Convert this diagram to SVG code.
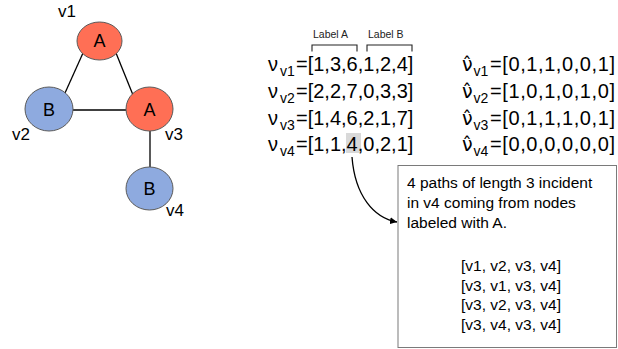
<svg xmlns="http://www.w3.org/2000/svg" width="618" height="349" viewBox="0 0 618 349">
<style>
text{font-family:"Liberation Sans",Arial,sans-serif;fill:#000}
.nA{fill:#ff6f55;stroke:#5a5a5a;stroke-width:1}
.nB{fill:#8eaadf;stroke:#5a5a5a;stroke-width:1}
.nl{font-size:18px;text-anchor:middle}
.vl{font-size:17px}
.edge{stroke:#000;stroke-width:1.3;fill:none}
.big{font-size:20px}
.nu{font-size:19px;font-family:"DejaVu Sans",sans-serif}
.sub{font-size:14px}
.lab{font-size:10.5px;fill:#222}
.br{stroke:#222;stroke-width:1.1;fill:none}
.box{font-size:15.5px}
</style>
<defs>
<marker id="ah" viewBox="0 0 10 10" refX="10" refY="5" markerWidth="7" markerHeight="7" orient="auto" markerUnits="userSpaceOnUse">
<path d="M0,0 L10,5 L0,10 z" fill="#000"/>
</marker>
</defs>
<g id="connectors">
<line class="edge" x1="83" y1="53" x2="65" y2="93"/>
<line class="edge" x1="116" y1="53" x2="133" y2="95"/>
<line class="edge" x1="73" y1="110" x2="126" y2="110"/>
<line class="edge" x1="150" y1="131" x2="150" y2="167"/>
<path class="edge" d="M352,157 C355,196 374,218 397,222" stroke-width="1.1" marker-end="url(#ah)"/>
</g>
<g id="v1">
<ellipse class="nA" cx="99.5" cy="41" rx="22.5" ry="19"/>
<text class="nl" x="99.5" y="46.5">A</text>
<text class="vl" x="58" y="17">v1</text>
</g>
<g id="v2">
<ellipse class="nB" cx="49" cy="109" rx="24" ry="22"/>
<text class="nl" x="49" y="115.5">B</text>
<text class="vl" x="12" y="140">v2</text>
</g>
<g id="v3">
<ellipse class="nA" cx="149.5" cy="109" rx="23.5" ry="22"/>
<text class="nl" x="149.5" y="115.5">A</text>
<text class="vl" x="165" y="140">v3</text>
</g>
<g id="v4">
<ellipse class="nB" cx="149.5" cy="188.5" rx="23.5" ry="21.5"/>
<text class="nl" x="149.5" y="195">B</text>
<text class="vl" x="166" y="216">v4</text>
</g>
<g id="labels">
<text class="lab" x="313" y="38">Label A</text>
<text class="lab" x="368" y="38">Label B</text>
<path class="br" d="M312,51.5 V45 H357 V51.5"/>
<path class="br" d="M367,51.5 V45 H412 V51.5"/>
</g>
<g id="vectors">
<rect x="346" y="133" width="15" height="20" fill="#d9d9d9"/>
<text class="big" x="268" y="71">ν</text><text class="sub" x="280" y="76">v1</text><text class="big" x="296" y="71">=[1,3,6,1,2,4]</text>
<text class="big" x="268" y="97.5">ν</text><text class="sub" x="280" y="102.5">v2</text><text class="big" x="296" y="97.5">=[2,2,7,0,3,3]</text>
<text class="big" x="268" y="124.5">ν</text><text class="sub" x="280" y="129.5">v3</text><text class="big" x="296" y="124.5">=[1,4,6,2,1,7]</text>
<text class="big" x="268" y="150.5">ν</text><text class="sub" x="280" y="155.5">v4</text><text class="big" x="296" y="150.5">=[1,1,4,0,2,1]</text>
</g>
<g id="hatvectors">
<text class="nu" x="462" y="71">ν̂</text><text class="sub" x="473.5" y="76">v1</text><text class="big" x="490" y="71" textLength="125">=[0,1,1,0,0,1]</text>
<text class="nu" x="462" y="97.5">ν̂</text><text class="sub" x="473.5" y="102.5">v2</text><text class="big" x="490" y="97.5" textLength="125">=[1,0,1,0,1,0]</text>
<text class="nu" x="462" y="124.5">ν̂</text><text class="sub" x="473.5" y="129.5">v3</text><text class="big" x="490" y="124.5" textLength="125">=[0,1,1,1,0,1]</text>
<text class="nu" x="462" y="150.5">ν̂</text><text class="sub" x="473.5" y="155.5">v4</text><text class="big" x="490" y="150.5" textLength="125">=[0,0,0,0,0,0]</text>
</g>
<g id="note">
<rect x="398" y="165.5" width="218.5" height="182" fill="#fff" stroke="#7a7a7a" stroke-width="1"/>
<text class="box" x="407" y="188">4 paths of length 3 incident</text>
<text class="box" x="407" y="208">in v4 coming from nodes</text>
<text class="box" x="407" y="228">labeled  with A.</text>
<text class="box" x="461" y="271">[v1, v2, v3, v4]</text>
<text class="box" x="461" y="290.5">[v3, v1, v3, v4]</text>
<text class="box" x="461" y="310">[v3, v2, v3, v4]</text>
<text class="box" x="461" y="329.5">[v3, v4, v3, v4]</text>
</g>
</svg>
